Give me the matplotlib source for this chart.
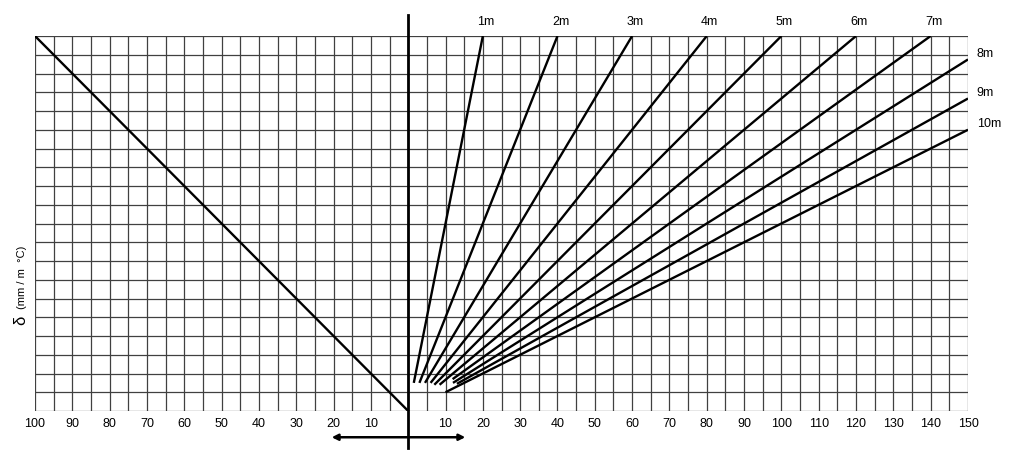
import matplotlib
matplotlib.use("Agg")
import matplotlib.pyplot as plt
import numpy as np

plt.rcParams['font.family'] = ['Liberation Sans', 'DejaVu Sans']

# ---- data ----
left_ticks = [-100, -90, -80, -70, -60, -50, -40, -30, -20, -10]
left_labels = ['100', '90', '80', '70', '60', '50', '40', '30', '20', '10']
right_ticks = [10, 20, 30, 40, 50, 60, 70, 80, 90, 100, 110, 120, 130, 140, 150]
right_labels = ['10', '20', '30', '40', '50', '60', '70', '80', '90', '100',
                '110', '120', '130', '140', '150']
lengths = [1, 2, 3, 4, 5, 6, 7, 8, 9, 10]
length_labels = ['1m', '2m', '3m', '4m', '5m', '6m', '7m', '8m', '9m', '10m']
start_delta = [1.5, 1.5, 1.5, 1.5, 1.4, 1.4, 1.7, 1.5, 1.45, 1.0]
diag_x = [-100, 0]
diag_y = [20, 0]

XMIN, XMAX, YMAX = -100, 150, 20

fig = plt.figure(figsize=(10.24, 4.54), dpi=100)
ax = fig.add_axes([35/1024, 1-411/454, (968-35)/1024, 375/454])
ax.set_xlim(XMIN, XMAX)
ax.set_ylim(0, YMAX)

# grid
for gx in np.arange(XMIN, XMAX + 1, 5):
    ax.plot([gx, gx], [0, YMAX], color='#404040', lw=0.9, zorder=1)
for gy in np.arange(0, YMAX + 1, 1):
    ax.plot([XMIN, XMAX], [gy, gy], color='#404040', lw=0.9, zorder=1)

for s in ax.spines.values():
    s.set_visible(False)

# diagonal on left side
ax.plot(diag_x, diag_y, color='black', lw=1.7, zorder=3)

# fan lines
for L, lab, sd in zip(lengths, length_labels, start_delta):
    x0 = sd * L
    x_end = min(XMAX, YMAX * L)
    y_end = x_end / L
    ax.plot([x0, x_end], [sd, y_end], color='black', lw=1.7, zorder=3,
            solid_capstyle='butt')
    if y_end >= YMAX - 1e-9:
        ax.text(x_end + 0.8, YMAX + 0.45, lab, ha='center', va='bottom',
                fontsize=9)
    else:
        ax.text(XMAX + 2.3, y_end + 0.3, lab, ha='left', va='center',
                fontsize=9)

# vertical axis line at 0
ax.plot([0, 0], [-1.95, YMAX + 1.1], color='black', lw=2.0, zorder=4,
        clip_on=False)

# double arrow under the axis
ax.annotate('', xy=(-20.5, -1.4), xytext=(15.3, -1.4),
            arrowprops=dict(arrowstyle='<|-|>', color='black', lw=1.8,
                            mutation_scale=9, shrinkA=0, shrinkB=0),
            annotation_clip=False)

# ticks
ax.set_xticks(left_ticks + right_ticks)
ax.set_xticklabels(left_labels + right_labels, fontsize=9)
ax.tick_params(axis='x', length=0, pad=5)
ax.set_yticks([])

# y label
fig.text(21/1024, 1-320/454, 'δ', rotation=90, ha='center', va='center',
         fontsize=12)
fig.text(22/1024, 1-277/454, '(mm / m  °C)', rotation=90, ha='center',
         va='center', fontsize=8)

fig.savefig('out.png', dpi=100, facecolor='white')
